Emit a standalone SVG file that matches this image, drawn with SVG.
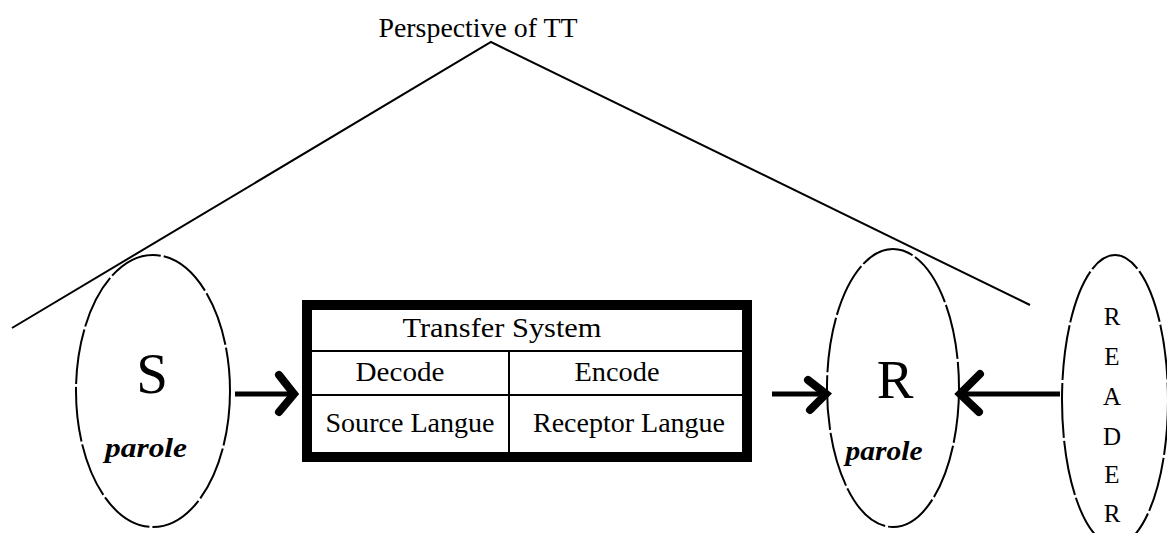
<svg xmlns="http://www.w3.org/2000/svg" width="1167" height="533" viewBox="0 0 1167 533">
<style>
.t{font-family:"Liberation Serif",serif;fill:#000}
.b{font-size:27px;text-anchor:middle}
.m{font-family:"Liberation Serif",serif;fill:#000;font-size:25px;text-anchor:middle}
.ell{fill:none;stroke:#000;stroke-width:2;stroke-dasharray:55 3}
.ln{fill:none;stroke:#000;stroke-width:2}
.sh{fill:none;stroke:#000;stroke-width:5}
.hd{fill:none;stroke:#000;stroke-width:8;stroke-linecap:round;stroke-linejoin:miter}
</style>
<rect width="1167" height="533" fill="#fff"/>
<g id="perspective">
<text class="t" x="478" y="37" font-size="27" text-anchor="middle" textLength="199" lengthAdjust="spacingAndGlyphs">Perspective of TT</text>
<polyline class="ln" points="12,328 491,42 1030,305"/>
</g>
<g id="node-S">
<ellipse class="ell" cx="153" cy="391" rx="77" ry="136"/>
<text class="t" x="152" y="393" font-size="57" text-anchor="middle">S</text>
<text class="t" x="146" y="457" font-size="27" font-style="italic" font-weight="bold" text-anchor="middle" textLength="82" lengthAdjust="spacingAndGlyphs">parole</text>
</g>
<g id="transfer-system">
<rect x="307" y="305" width="440" height="152" fill="none" stroke="#000" stroke-width="10"/>
<line class="ln" x1="312" y1="351" x2="742" y2="351"/>
<line class="ln" x1="312" y1="395" x2="742" y2="395"/>
<line class="ln" x1="509" y1="351" x2="509" y2="453"/>
<text class="t b" x="502" y="337" textLength="199" lengthAdjust="spacingAndGlyphs">Transfer   System</text>
<text class="t b" x="400" y="381" textLength="89" lengthAdjust="spacingAndGlyphs">Decode</text>
<text class="t b" x="617" y="381" textLength="85" lengthAdjust="spacingAndGlyphs">Encode</text>
<text class="t b" x="410" y="432" textLength="169" lengthAdjust="spacingAndGlyphs">Source Langue</text>
<text class="t b" x="629" y="432" textLength="192" lengthAdjust="spacingAndGlyphs">Receptor Langue</text>
</g>
<g id="node-R">
<ellipse class="ell" cx="893" cy="388" rx="66" ry="139"/>
<text class="t" x="895" y="398" font-size="55" text-anchor="middle">R</text>
<text class="t" x="884" y="460" font-size="27" font-style="italic" font-weight="bold" text-anchor="middle" textLength="77" lengthAdjust="spacingAndGlyphs">parole</text>
</g>
<g id="node-READER">
<ellipse class="ell" cx="1115" cy="400" rx="53" ry="145"/>
<text class="m" x="1112" y="325">R</text>
<text class="m" x="1112" y="365">E</text>
<text class="m" x="1112" y="405">A</text>
<text class="m" x="1112" y="445">D</text>
<text class="m" x="1112" y="483">E</text>
<text class="m" x="1112" y="522">R</text>
</g>
<g id="connectors">
<line class="sh" x1="235" y1="394" x2="291" y2="394"/>
<path class="hd" d="M279,375 L294,394 L279,412"/>
<line class="sh" x1="772" y1="394" x2="824" y2="394"/>
<path class="hd" d="M808,380 L826,394 L810,410"/>
<line class="sh" x1="1060" y1="394" x2="962" y2="394"/>
<path class="hd" d="M980,374 L960,394 L979,412"/>
</g>
</svg>
